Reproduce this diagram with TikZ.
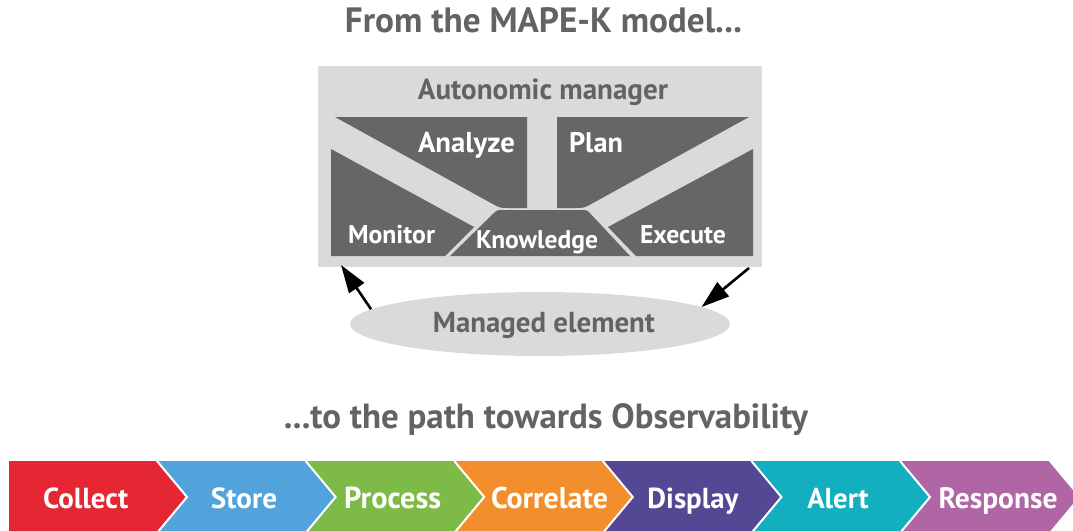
\documentclass[tikz,border=0pt]{standalone}
\usepackage{fontspec}
\setmainfont{PT Sans}
\usepackage{graphicx}
\usetikzlibrary{arrows.meta,shapes.geometric}
\definecolor{lightg}{HTML}{DADADA}
\definecolor{darkg}{HTML}{666666}
\definecolor{txtg}{HTML}{636363}
\definecolor{cRed}{HTML}{E52733}
\definecolor{cBlue}{HTML}{52A3DB}
\definecolor{cGreen}{HTML}{7DBA47}
\definecolor{cOrange}{HTML}{F28F2C}
\definecolor{cPurple}{HTML}{544794}
\definecolor{cTeal}{HTML}{13AFBF}
\definecolor{cPink}{HTML}{B065A4}
\newcommand\fitw[2]{\resizebox{#1pt}{!}{\bfseries #2}}
\begin{document}
\begin{tikzpicture}[x=1pt,y=-1pt,
  lbl/.style={inner sep=0pt, anchor=base},
  graylbl/.style={lbl, text=txtg},
  whitelbl/.style={lbl, text=white},
  block/.style={fill=darkg},
  arr/.style={line width=2.6pt, -{Triangle[length=28pt,width=18pt]}},
  sep/.style={draw=white, line width=2pt}]
\useasboundingbox (0,0) rectangle (1073,530);
\clip (0,0) rectangle (1073,530);

% titles
\node[graylbl] (t1) at (543.5,32) {\fitw{397}{From the MAPE-K model...}};
\node[graylbl] (t2) at (546,428) {\fitw{524}{...to the path towards Observability}};

% autonomic manager box
\node[fill=lightg, inner sep=0pt, minimum width=444pt, minimum height=201pt] (am) at (540,166.5) {};
\node[graylbl] (amt) at (543,99) {\fitw{250}{Autonomic manager}};

% MAPE blocks
\fill[block] (335,117) -- (527,117) -- (527,208) -- (509,208) .. controls (500,208) .. (492.1,203.65) -- cycle;
\fill[block] (557,117) -- (749,117) -- (591.9,203.65) .. controls (584,208) .. (575,208) -- (557,208) -- cycle;
\fill[block] (331,149) -- (474,227) -- (445,256) -- (331,256) -- cycle;
\fill[block] (753,149) -- (753,256) -- (636,256) -- (608,227) -- cycle;
\fill[block] (450,256) -- (492.7,214.2) .. controls (497,210) .. (503,210) -- (581,210) .. controls (587,210) .. (591.1,214.4) -- (630,256) -- cycle;

\node[whitelbl] (an) at (466.5,152) {\fitw{97}{Analyze}};
\node[whitelbl] (pl) at (596,152) {\fitw{54}{Plan}};
\node[whitelbl] (mo) at (391.5,243) {\fitw{87}{Monitor}};
\node[whitelbl] (kn) at (537,248) {\fitw{122}{Knowledge}};
\node[whitelbl] (ex) at (683,243) {\fitw{86}{Execute}};

% managed element
\node[ellipse, fill=lightg, inner sep=0pt, minimum width=380pt, minimum height=64pt] (me) at (540,324) {};
\node[graylbl] (met) at (544,332) {\fitw{222}{Managed element}};

\coordinate (inL) at (341,265);
\coordinate (outR) at (749,268);
\draw[arr] (me.175) -- (inL);
\draw[arr] (outR) -- (me.6);

% observability chevrons
\fill[cRed] (9,461) -- (157,461) -- (187,497) -- (157,533) -- (9,533) -- cycle;
\foreach \i/\c in {1/cBlue,2/cGreen,3/cOrange,4/cPurple,5/cTeal,6/cPink}{
  \pgfmathsetmacro\R{157+148.6*\i}
  \pgfmathsetmacro\L{\R-148.6}
  \fill[\c] (\L,461) -- (\R,461) -- (\R+30,497) -- (\R,533) -- (\L,533) -- (\L+30,497) -- cycle;
}
\foreach \i in {0,...,5}{
  \pgfmathsetmacro\R{157+148.6*\i}
  \draw[sep] (\R,461) -- (\R+30,497) -- (\R,533);
}
\node[whitelbl] (s1) at (85.6,508) {\fitw{85}{Collect}};
\node[whitelbl] (s2) at (244,508) {\fitw{66}{Store}};
\node[whitelbl] (s3) at (392.7,508) {\fitw{97}{Process}};
\node[whitelbl] (s4) at (549.5,508) {\fitw{117}{Correlate}};
\node[whitelbl] (s5) at (693,508) {\fitw{91}{Display}};
\node[whitelbl] (s6) at (838,508) {\fitw{61.5}{Alert}};
\node[whitelbl] (s7) at (998,508) {\fitw{119}{Response}};
\end{tikzpicture}
\end{document}
